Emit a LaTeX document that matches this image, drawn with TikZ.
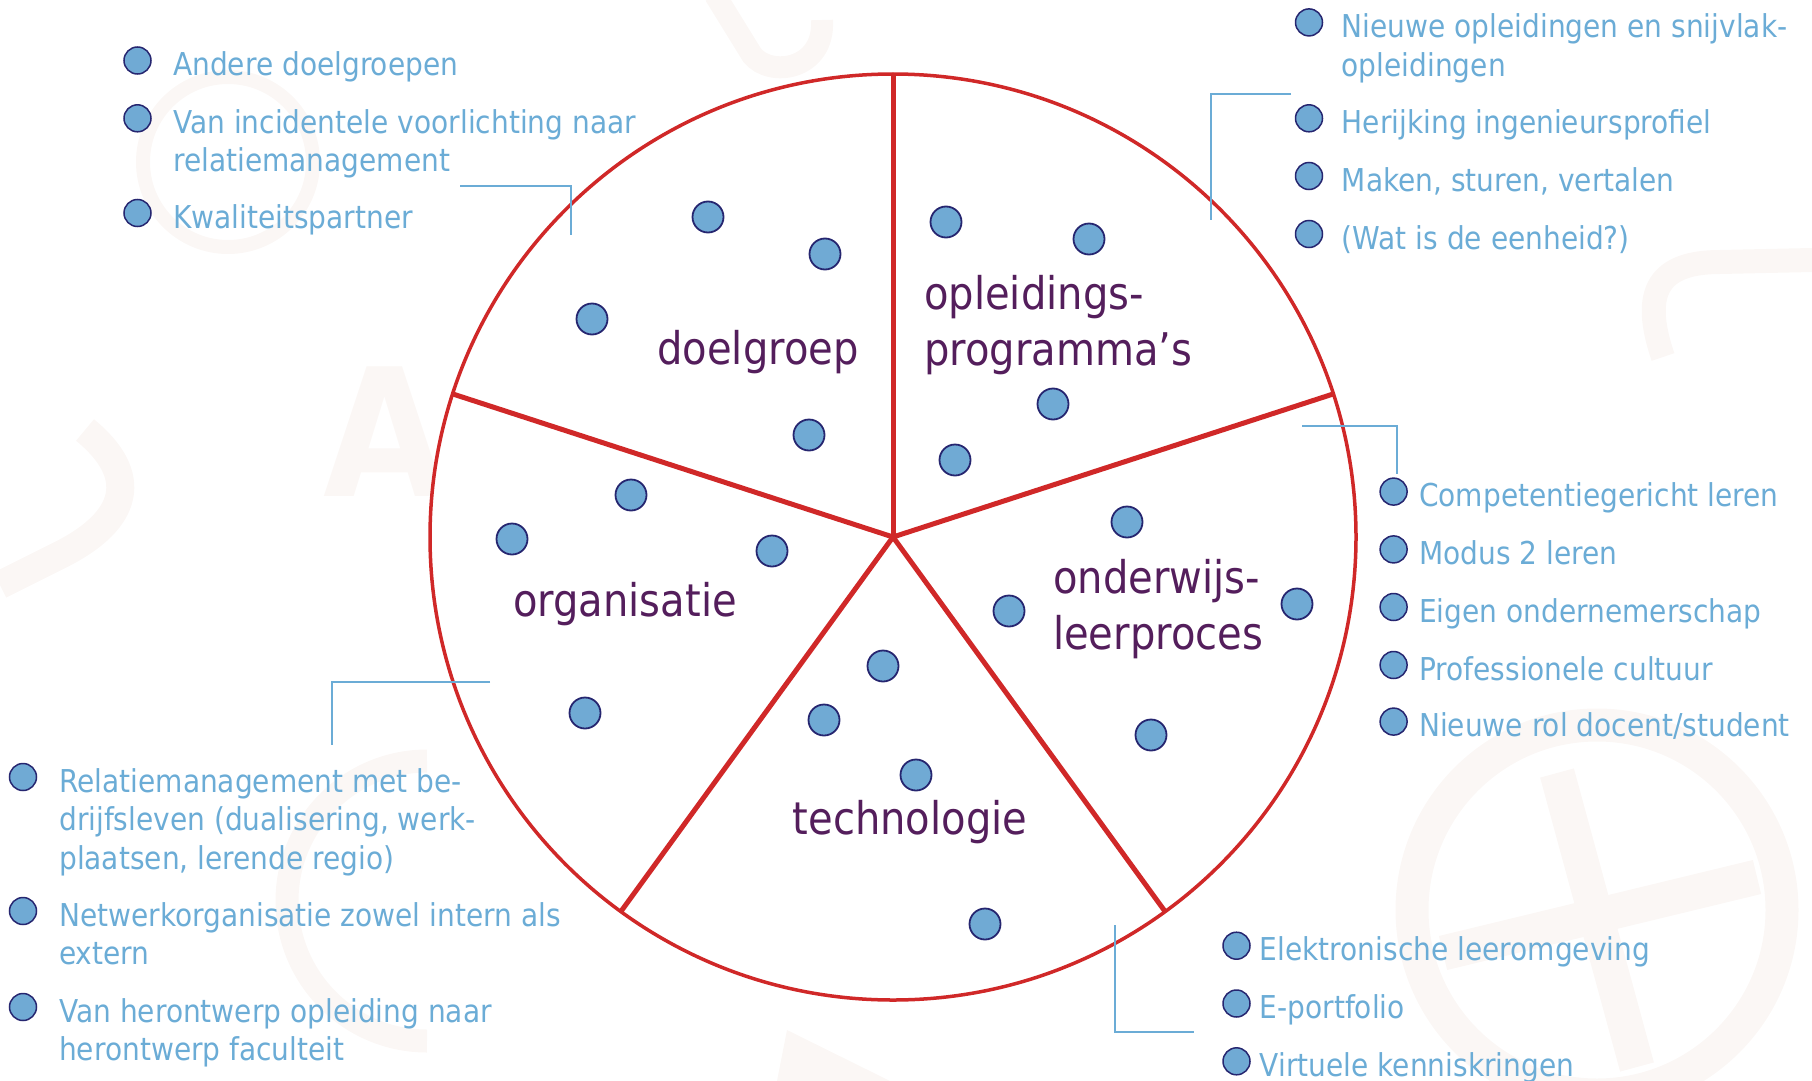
\documentclass[tikz,border=0pt]{standalone}
\usepackage{fontspec}
\setmainfont{DejaVu Sans}[FakeStretch=0.89]

\definecolor{wheelred}{RGB}{208,40,40}
\definecolor{dotblue}{RGB}{112,170,212}
\definecolor{dotedge}{RGB}{38,38,112}
\definecolor{itemblue}{RGB}{107,172,214}
\definecolor{sectorpurple}{RGB}{84,30,92}
\definecolor{wmark}{RGB}{251,247,245}

\begin{document}
\begin{tikzpicture}[x=1pt,y=-1pt,
  dot/.style={circle,draw=dotedge,line width=1.8pt,fill=dotblue,minimum size=31pt,inner sep=0},
  bullet/.style={circle,draw=dotedge,line width=1.5pt,fill=dotblue,minimum size=27pt,inner sep=0},
  item/.style={anchor=north west,inner sep=0,align=left,text=itemblue,font=\fontsize{31.5}{38.5}\selectfont},
  sector/.style={inner sep=0,align=left,text=sectorpurple,font=\fontsize{45}{55.5}\selectfont},
  link/.style={draw=itemblue,line width=2pt},
  spoke/.style={draw=wheelred,line width=5pt},
  wm/.style={draw=wmark,line width=#1}]
\useasboundingbox (0,0) rectangle (1812,1081);
\clip (0,0) rectangle (1812,1081);

% faint watermark in the background
\draw[wm=33pt] (1597,910) circle[radius=185pt];
\draw[wm=35pt] (1557,773) -- (1637,1067);
\draw[wm=35pt] (1443,953) -- (1757,877);
\draw[wm=14pt] (228,162) circle[radius=85pt];
\draw[wm=23pt] (427,761) arc[start angle=90,end angle=270,radius=140pt];
\draw[wm=24pt] (1663,357) .. controls (1640,290) and (1660,262) .. (1720,262) -- (1812,260);
\draw[wm=22pt] (715,-5) -- (752,55) .. controls (770,78) and (825,70) .. (822,20);
\draw[wm=28pt] (85,430) .. controls (140,475) and (130,520) .. (60,555) -- (0,585);
\fill[wmark] (787,1030) -- (777,1081) -- (890,1081) -- cycle;
\node[text=wmark,font=\bfseries\fontsize{178}{178}\selectfont] (wmA) at (385,432) {A};

% the wheel
\coordinate (ctr) at (893,537);
\draw[draw=wheelred,line width=3.5pt,fill=white] (ctr) circle[radius=463pt];
\foreach \a in {90,18,-54,-126,162}
  \draw[spoke] (ctr) -- ++(\a:463pt);

\foreach \x/\y [count=\i] in {708/217,825/254,592/319,809/435,
    946/222,1089/239,1053/404,955/460,
    1127/522,1009/611,1297/604,1151/735,
    883/666,824/720,916/775,985/924,
    631/495,512/539,772/551,585/713}
  \node[dot] (d\i) at (\x,\y) {};

\node[sector] (doelgroep) at (758,352) {doelgroep};
\node[sector,anchor=west] (opleiding) at (924,325) {opleidings-\\programma’s};
\node[sector,anchor=west] (onderwijs) at (1053,609) {onderwijs-\\leerproces};
\node[sector] (technologie) at (910,822) {technologie};
\node[sector] (organisatie) at (625,604) {organisatie};

% the lists
\foreach \y/\txt [count=\i] in {75.5/{Andere doelgroepen},
    133.3/{Van incidentele voorlichting naar\\relatiemanagement},
    228/{Kwaliteitspartner}}
{
  \node[bullet] (dg\i) at (137.5,\y-15) {};
  \node[item] (dgt\i) at (173,\y-24) {\txt};
}
\foreach \y/\txt [count=\i] in {37.4/{Nieuwe opleidingen en snijvlak-\\opleidingen},
    133.3/{Herijking ingenieursprofiel},
    191/{Maken, sturen, vertalen},
    249/{(Wat is de eenheid?)}}
{
  \node[bullet] (op\i) at (1309,\y-15) {};
  \node[item] (opt\i) at (1341.6,\y-24) {\txt};
}
\foreach \y/\txt [count=\i] in {506.6/{Competentiegericht leren},
    564.4/{Modus 2 leren},
    622/{Eigen ondernemerschap},
    680/{Professionele cultuur},
    736.6/{Nieuwe rol docent/student}}
{
  \node[bullet] (ow\i) at (1393.6,\y-15) {};
  \node[item] (owt\i) at (1419,\y-24) {\txt};
}
\foreach \y/\txt [count=\i] in {960.7/{Elektronische leeromgeving},
    1018.5/{E-portfolio},
    1076.3/{Virtuele kenniskringen}}
{
  \node[bullet] (te\i) at (1236.5,\y-15) {};
  \node[item] (tet\i) at (1259.6,\y-24) {\txt};
}
\foreach \y/\txt [count=\i] in {792/{Relatiemanagement met be-\\drijfsleven (dualisering, werk-\\plaatsen, lerende regio)},
    926/{Netwerkorganisatie zowel intern als\\extern},
    1022/{Van herontwerp opleiding naar\\herontwerp faculteit}}
{
  \node[bullet] (or\i) at (23,\y-15) {};
  \node[item] (ort\i) at (59,\y-24) {\txt};
}

% brackets from the wheel to the lists
\coordinate (dgA) at (460,186);  \coordinate (dgB) at (571,235);
\coordinate (opA) at (1291,94);  \coordinate (opB) at (1211,220);
\coordinate (owA) at (1302,426); \coordinate (owB) at (1397,474);
\coordinate (teA) at (1115,925); \coordinate (teB) at (1194,1032);
\coordinate (orA) at (490,682);  \coordinate (orB) at (332,745);
\draw[link] (dgA) -| (dgB);
\draw[link] (opA) -| (opB);
\draw[link] (owA) -| (owB);
\draw[link] (teA) |- (teB);
\draw[link] (orA) -| (orB);
\end{tikzpicture}
\end{document}
